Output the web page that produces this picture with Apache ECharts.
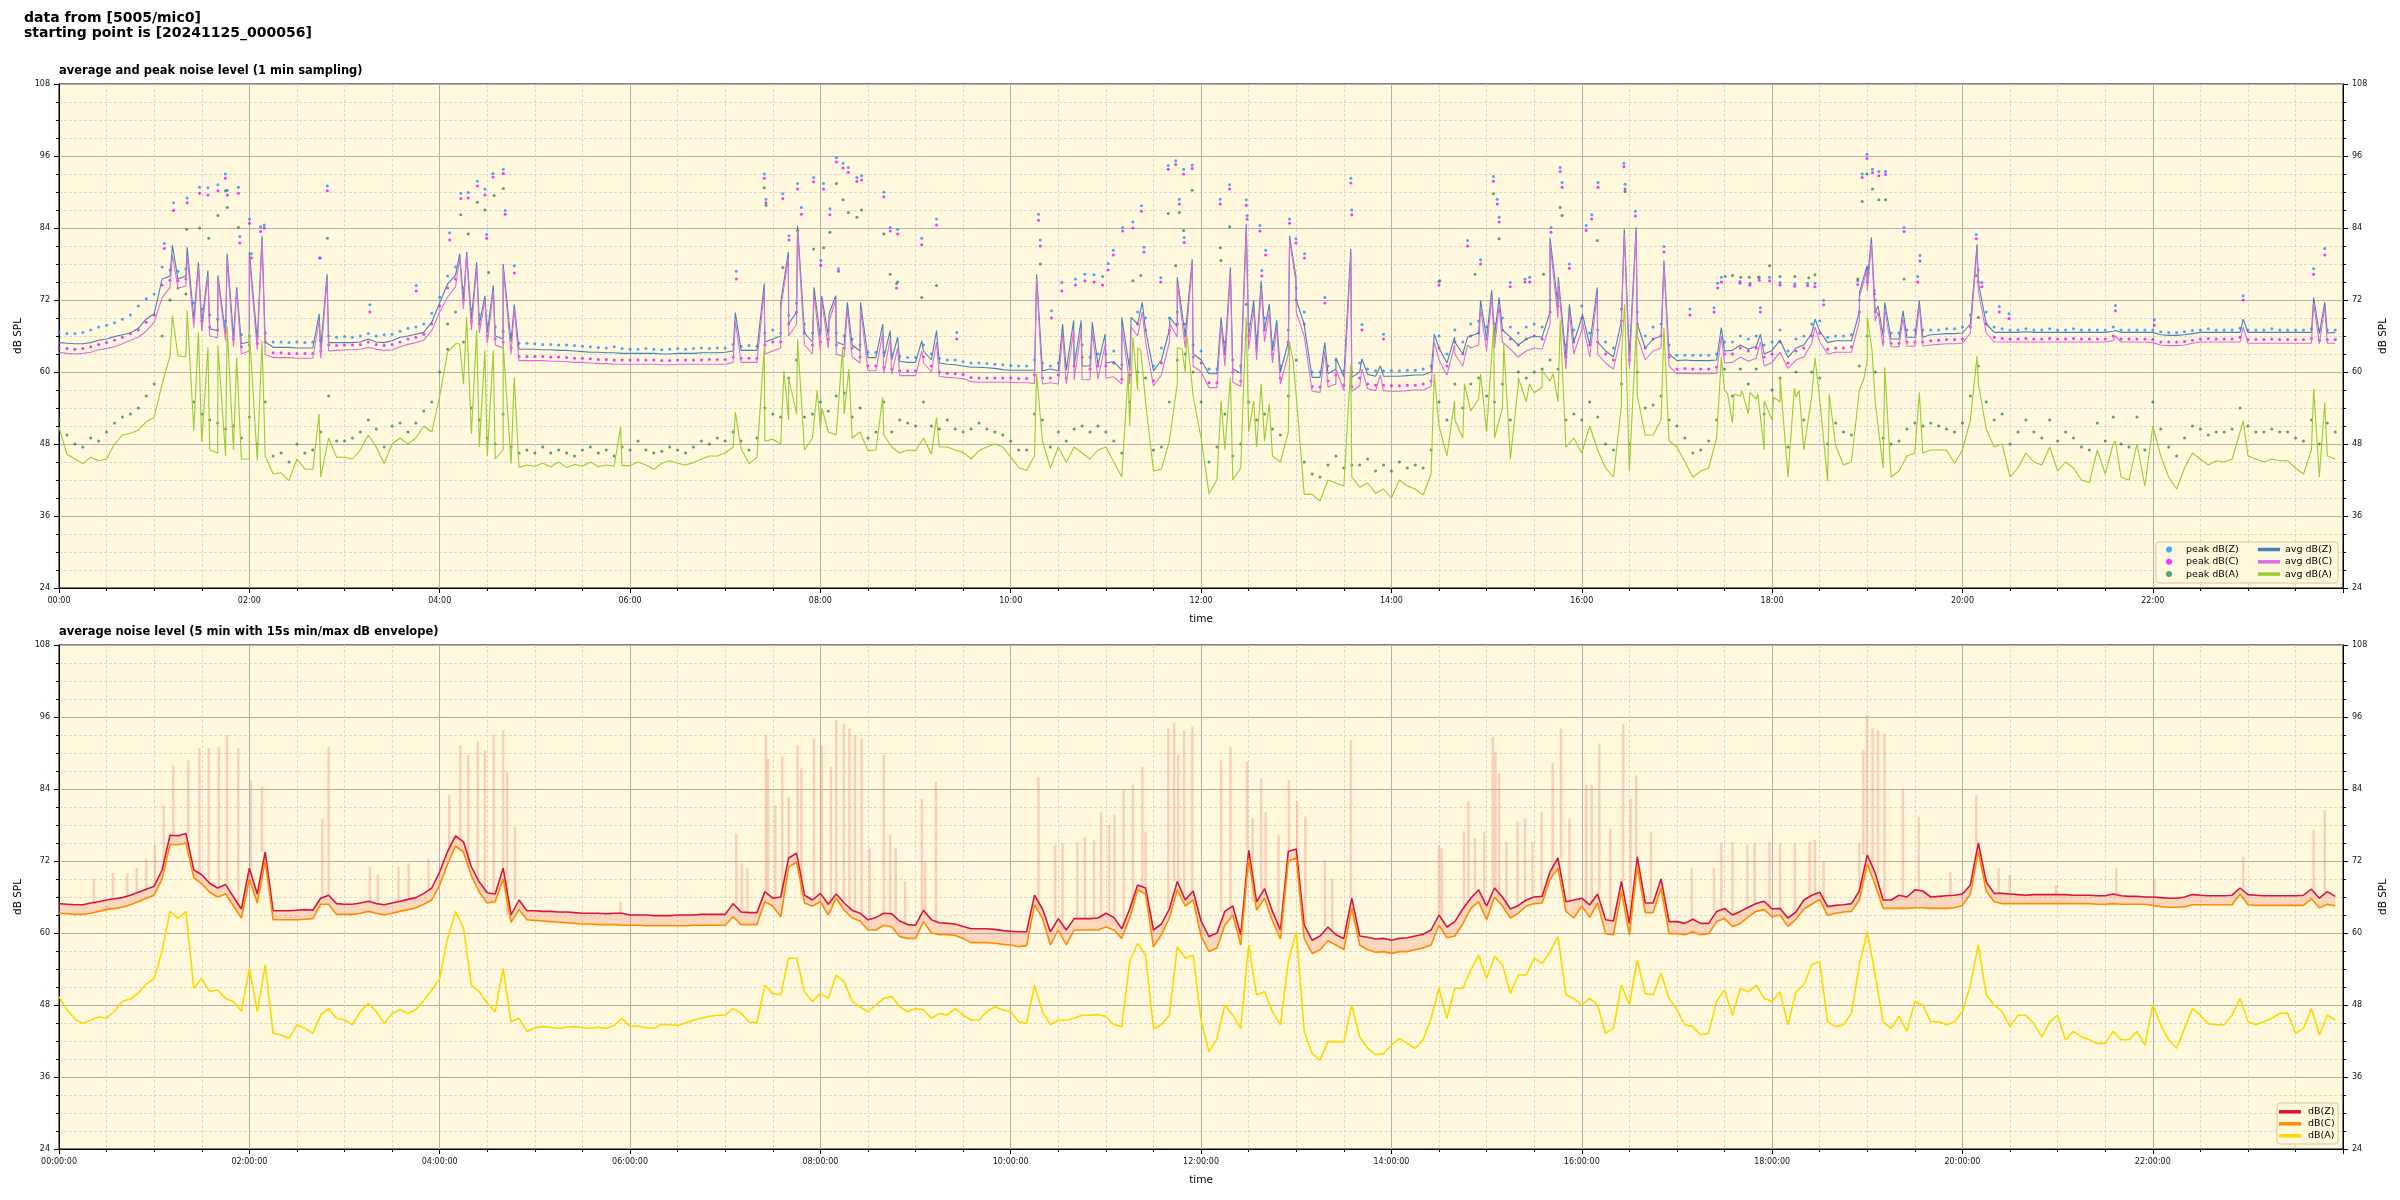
<!DOCTYPE html>
<html><head><meta charset="utf-8">
<script src="https://cdn.jsdelivr.net/npm/echarts@6/dist/echarts.min.js"></script>
<style>html,body{margin:0;padding:0;background:#fff}#c{width:2400px;height:1200px}</style>
</head><body><div id="c"></div>
<script>
// ---------- DATA (5-minute samples, 00:00 .. 23:55) ----------
const STEP = 5;
// bottom panel: 5-min averages
const z5 = [
64.9,64.8,64.7,64.7,65.0,65.2,65.5,65.7,65.9,66.3,66.8,67.3,
67.8,70.5,76.3,76.2,76.6,70.5,69.7,68.3,67.5,68.1,66.0,64.0,
70.8,66.5,73.5,63.7,63.7,63.7,63.8,63.9,63.8,65.8,66.3,64.9,
64.8,64.8,65.0,65.3,64.9,64.7,65.0,65.3,65.6,65.9,66.6,67.5,
70.2,73.6,76.2,75.2,71.0,68.5,66.7,66.5,70.8,63.0,65.5,63.7,
63.7,63.6,63.6,63.5,63.5,63.4,63.3,63.3,63.3,63.2,63.3,63.3,
63.0,63.0,63.0,62.9,62.9,62.9,63.0,63.0,63.0,63.1,63.1,63.1,
63.1,64.9,63.5,63.4,63.4,66.9,65.8,66.0,72.5,73.3,66.3,65.5,
66.6,64.8,66.5,65.0,63.8,63.3,62.2,62.6,63.3,63.2,62.0,61.4,
61.3,63.8,62.2,61.7,61.6,61.5,61.1,60.7,60.7,60.7,60.6,60.4,
60.3,60.2,60.2,66.3,64.0,60.2,62.4,60.5,62.4,62.4,62.4,62.5,
63.3,62.6,60.7,64.0,68.0,67.5,60.5,61.5,64.0,68.6,65.5,67.0,
62.0,59.4,60.0,63.6,64.5,59.7,73.8,65.2,67.4,63.6,60.5,73.6,
74.0,61.3,58.8,59.5,61.0,59.7,59.1,65.8,59.5,59.3,59.0,59.1,
58.8,59.1,59.2,59.5,59.8,60.5,63.0,61.0,61.9,64.0,65.8,67.2,
64.5,67.5,66.0,64.0,64.6,65.5,66.0,66.1,70.2,72.5,65.2,65.5,
65.8,64.7,66.5,62.2,62.0,68.6,61.6,72.7,65.0,65.0,69.0,61.9,
61.9,61.6,62.3,61.6,61.6,63.6,64.1,63.0,63.6,64.3,64.9,65.3,
64.0,64.1,62.5,63.5,65.5,66.3,66.8,64.4,64.6,64.7,64.9,67.0,
73.0,70.0,65.5,65.5,66.3,66.0,67.2,67.0,66.0,66.1,66.2,66.3,
66.5,68.0,75.0,68.5,66.6,66.6,66.5,66.4,66.3,66.4,66.4,66.4,
66.4,66.4,66.3,66.3,66.3,66.2,66.2,66.5,66.2,66.1,66.1,66.0,
66.0,65.9,65.8,65.8,66.0,66.4,66.3,66.2,66.2,66.2,66.3,67.5,
66.4,66.3,66.2,66.2,66.2,66.2,66.2,66.3,67.3,65.8,66.9,66.1];
const c5 = [
63.3,63.2,63.1,63.1,63.3,63.6,63.9,64.1,64.3,64.7,65.2,65.8,
66.3,69.0,74.8,74.7,75.0,69.2,68.2,66.8,66.0,66.5,64.5,62.5,
69.0,65.0,72.0,62.2,62.2,62.2,62.2,62.3,62.4,64.8,64.8,63.1,
63.1,63.1,63.3,63.6,63.3,63.0,63.3,63.6,63.9,64.2,64.8,65.5,
68.0,71.5,74.5,73.5,69.5,66.8,65.0,65.2,69.0,61.8,63.9,62.2,
62.1,62.0,61.9,61.8,61.7,61.6,61.5,61.5,61.4,61.4,61.4,61.3,
61.3,61.3,61.2,61.2,61.2,61.2,61.2,61.2,61.3,61.3,61.3,61.3,
61.3,62.7,61.4,61.4,61.4,65.2,64.5,62.7,71.0,71.8,65.0,64.5,
65.2,63.0,65.8,63.8,62.5,62.0,60.5,60.5,61.3,61.0,59.4,59.1,
59.1,61.9,60.0,59.7,59.7,59.6,59.1,58.4,58.4,58.4,58.3,58.1,
58.0,57.7,57.9,64.7,62.5,58.0,60.5,58.0,60.5,60.5,60.5,60.5,
61.0,60.5,59.1,62.5,67.2,66.5,57.7,59.7,62.5,67.2,64.5,65.5,
59.5,56.9,57.5,61.3,63.0,58.0,72.4,63.8,65.8,62.0,59.0,72.0,
72.5,59.1,56.6,57.2,58.7,58.0,57.2,64.1,58.0,57.2,56.8,56.9,
56.6,56.9,56.9,57.2,57.5,58.0,61.3,59.2,59.5,61.5,64.1,65.2,
62.2,66.0,64.5,62.5,63.3,64.5,64.9,65.0,69.0,70.8,63.6,62.5,
64.5,62.6,65.0,59.9,59.7,66.9,59.7,71.1,63.4,63.4,67.5,59.9,
59.9,59.7,60.2,59.7,59.9,61.9,62.4,61.1,61.6,62.7,63.6,63.9,
62.7,63.0,61.1,62.3,64.0,64.8,65.6,62.9,63.3,63.5,63.6,65.5,
71.5,68.0,64.1,64.1,64.1,64.1,64.2,64.2,64.1,64.1,64.1,64.2,
64.6,66.5,73.6,67.0,65.2,64.9,64.9,64.9,64.9,64.9,64.9,64.9,
64.9,64.9,64.9,64.9,64.9,64.8,64.8,64.9,64.8,64.8,64.8,64.8,
64.6,64.4,64.3,64.3,64.4,64.7,64.7,64.7,64.7,64.7,64.7,66.5,
64.7,64.6,64.6,64.6,64.6,64.6,64.6,64.6,65.7,64.2,64.8,64.5];
const a5 = [
49.4,47.2,45.7,44.9,45.5,46.0,45.8,47.0,48.6,49.0,50.0,51.5,
52.4,57.0,63.6,62.4,63.6,50.8,52.4,50.2,50.5,49.1,48.6,47.0,
54.1,46.9,54.7,43.3,43.0,42.4,44.7,44.1,43.3,46.3,47.4,45.8,
45.5,44.7,46.9,48.3,46.9,44.9,46.6,47.2,46.6,47.2,48.8,50.5,
52.4,59.1,63.6,60.8,51.3,50.2,48.3,46.9,54.1,45.2,45.8,43.6,
44.2,44.4,44.3,44.1,44.3,44.4,44.2,44.1,44.3,44.1,44.6,45.8,
44.4,44.5,44.2,44.1,44.8,44.7,44.6,45.0,45.5,45.8,46.1,46.3,
46.3,47.4,46.6,45.2,45.0,51.3,49.9,49.7,55.8,55.8,50.2,48.6,
49.9,49.1,53.0,51.9,48.6,47.7,46.9,48.0,49.1,49.4,47.7,46.9,
47.4,47.2,45.8,46.6,46.3,47.4,46.3,45.5,45.5,46.9,47.7,47.2,
46.9,45.2,44.9,51.3,46.9,44.7,45.5,45.5,45.8,46.3,46.3,46.4,
46.1,44.7,44.4,55.2,58.3,56.3,44.1,44.7,46.3,57.7,55.8,56.3,
45.5,40.2,42.4,48.0,46.3,44.1,58.0,49.7,50.2,46.9,44.7,55.2,
60.2,43.6,39.9,38.8,41.9,41.9,41.9,48.0,42.7,40.8,39.7,39.9,
41.3,42.4,41.6,40.8,42.2,45.8,50.8,45.8,50.8,50.8,53.8,56.3,
52.4,56.1,54.7,49.9,53.0,53.0,55.8,54.9,56.9,59.4,49.7,49.1,
48.0,49.1,48.0,43.3,44.1,51.3,48.0,55.5,49.9,49.7,53.3,49.1,
47.2,44.7,44.4,43.0,43.3,48.6,50.5,46.3,50.8,50.2,51.3,49.1,
48.6,50.2,44.7,50.2,51.3,54.7,55.2,45.2,44.4,44.7,46.6,54.7,
60.2,53.0,45.2,44.1,46.1,43.6,48.6,48.0,45.2,45.2,44.7,45.2,
46.9,51.3,58.0,49.7,48.0,46.9,44.4,46.3,46.3,44.9,42.7,45.2,
46.3,42.2,43.6,42.7,42.2,41.6,41.6,43.6,42.2,42.2,43.6,41.3,
48.0,44.7,42.2,40.8,44.1,47.4,46.3,44.9,44.7,44.7,46.3,49.1,
45.2,44.7,45.2,45.8,46.6,46.6,43.3,44.1,47.4,43.0,46.3,45.5];
// 15 s max-envelope excursions [minute, dB]
const envSpikes = [
[22,69],[34,70],[43,70],[49,70.8],[55,72.4],[60.5,74.7],[66,81.3],[72,88],[81.5,88.8],[88.5,90.8],[94.4,90.8],[100.7,91],[106,93],[113,90.8],[121,85.5],[128,84.4],[166,79.1],[170,91],[196,71],[201,69.7],[214,71],[220.5,71.6],[233,72.4],[246,83],[253,91.3],[258,89.7],[264,91.9],[268.5,90.5],[274,93],[280,93.8],[282.5,86.9],[287.5,77.7],[354,65.2],
[427,76.6],[430.6,71.6],[434,70.8],[445.7,93],[447,89],[451.6,81.3],[456,89.4],[460,82.7],[465.6,91.3],[468,87.4],[476,92.4],[480.8,91.3],[486.6,87.7],[490,95.5],[494.8,94.9],[498.3,94.1],[501.8,93],[506,92.4],[511,74.1],[520,89.7],[524,76.3],[527.5,74.1],[533.4,68.6],[544,82.4],[546,71.9],[552.8,85.2],[617.5,86],[628,74.7],[632.7,75],[642,75.2],[646.7,76],[652.5,75.5],[657,80.2],[662,78],[665.4,79.7],[671.2,84],[677,84.7],[683,87.7],[685,76.9],[699.3,94.1],[703,95],[705.6,89.7],[709.3,93.8],[714.5,94.4],
[732.6,88.8],[738.5,91],[749,88.6],[752.5,79.1],[757.9,85.8],[760.7,80.2],[768.8,76.3],[775.4,85.5],[780.5,81.9],[785.7,79.4],[798,72.2],[802.7,69.1],[814.4,92.2],[870,74.7],[871.6,74.1],[885.7,76.9],[888.5,81.9],[892.7,75.8],[898.5,76.9],[903.9,92.7],[905.5,90.2],[907.9,86.6],[912.5,75.2],[919.5,78.6],[924.2,79.1],[928.9,75.2],[934.7,80.2],[941.7,88.3],[946.9,94.1],[952.2,79.1],[962.8,84.7],[966.3,84.7],[971,91.6],[978,77.4],[986.1,94.9],[990.8,82.4],[994.3,86.3],[1003.6,76.9],[1029.3,70.8],[1043.4,70.8],[1048,75],[1055,75.2],[1064.4,74.7],[1069,74.9],[1078.4,75.2],
[1085,75],[1094.3,75],[1103.6,75.2],[1107,75.5],[1112.5,71.9],[1135,75],[1137.5,90.5],[1139.8,96.3],[1143.3,94.1],[1146.8,93.8],[1150.8,93.3],[1162.5,84.1],[1172.5,79.4],[1192.4,70.2],[1208.7,83],[1222.8,70.8],[1229.8,69.7],[1259,68],[1297,70.8],[1321,68.8],[1377,72.7],[1421.4,77.2],[1428.4,80.5]];

// top panel: 1-min averages (base level every 5 min + short events)
const avgZ = [
64.9,64.8,64.7,64.7,64.9,65.3,65.5,65.9,66.2,66.5,67.3,68.8,
69.7,75.5,76.0,75.5,76.0,68.8,68.0,67.2,66.9,66.3,65.8,64.7,
65.0,65.2,65.0,64.1,64.1,64.1,64.0,64.0,64.0,64.0,64.9,64.9,
64.9,64.9,65.0,65.5,65.0,64.9,65.2,65.8,66.0,66.3,66.6,68.3,
71.5,74.7,76.1,72.0,68.8,68.0,66.5,66.0,65.5,65.0,63.8,63.8,
63.8,63.7,63.7,63.6,63.6,63.5,63.4,63.3,63.3,63.2,63.2,63.1,
63.1,63.1,63.1,63.1,63.0,63.0,63.1,63.1,63.1,63.2,63.2,63.2,
63.3,63.5,63.6,63.6,63.6,65.0,65.5,66.0,68.0,70.0,66.5,65.0,
65.5,66.0,65.0,64.5,64.5,63.5,62.4,62.4,62.4,62.0,61.8,61.6,
61.6,63.5,62.0,61.5,61.3,61.2,61.0,60.8,60.8,60.7,60.6,60.4,
60.3,60.3,60.3,60.3,60.2,60.5,60.2,60.3,61.0,61.0,61.0,61.2,
61.5,61.7,60.3,60.3,68.0,67.0,60.2,62.0,67.0,67.5,66.0,63.0,
62.0,59.7,59.7,63.0,60.5,59.8,66.0,64.0,67.0,63.5,60.0,65.0,
72.0,68.0,59.1,59.1,59.7,60.5,59.2,59.1,60.0,59.6,59.3,59.3,
59.3,59.3,59.4,59.5,59.5,60.0,64.0,61.5,65.0,63.0,66.0,66.5,
65.5,66.0,67.0,65.8,64.5,65.5,66.0,65.8,70.0,71.0,62.5,65.0,
69.0,64.5,65.0,63.5,62.5,68.5,62.5,68.0,64.0,65.5,66.0,63.0,
61.9,62.0,61.9,61.9,61.9,62.0,63.5,63.6,64.5,63.8,64.3,63.0,
63.6,65.3,62.4,64.0,64.5,66.5,66.8,64.9,65.2,65.2,65.2,70.0,
75.0,70.0,66.0,65.5,65.5,65.8,65.8,65.8,66.2,66.3,66.4,66.4,
66.5,68.0,75.0,68.0,66.6,66.6,66.6,66.6,66.7,66.6,66.6,66.6,
66.6,66.6,66.6,66.6,66.6,66.6,66.6,66.8,66.6,66.6,66.6,66.6,
66.6,66.2,66.1,66.1,66.2,66.4,66.6,66.6,66.6,66.6,66.6,66.6,
66.6,66.6,66.6,66.6,66.6,66.6,66.6,66.6,66.6,66.4,66.5,66.6];
const avgC = [
63.3,63.1,63.0,63.1,63.3,63.7,63.9,64.2,64.7,65.3,65.8,66.8,
68.3,72.4,74.1,74.0,74.3,67.4,66.8,66.0,65.7,65.2,64.2,63.0,
63.5,63.7,62.9,62.4,62.4,62.4,62.3,62.3,62.3,62.3,63.5,63.6,
63.7,63.7,63.8,64.1,63.8,63.6,63.7,64.2,64.6,64.9,65.3,66.9,
70.0,72.5,74.2,70.5,67.0,66.5,64.8,64.5,64.0,63.0,61.9,61.9,
61.9,61.9,61.8,61.8,61.7,61.6,61.6,61.5,61.4,61.4,61.3,61.3,
61.3,61.3,61.3,61.3,61.2,61.2,61.3,61.3,61.3,61.3,61.3,61.3,
61.3,61.6,61.6,61.6,61.6,63.0,63.5,64.0,66.0,68.0,64.5,63.0,
63.5,64.0,63.0,62.5,62.5,61.5,60.2,60.2,59.8,59.6,59.4,59.4,
59.4,61.5,60.0,59.3,59.1,59.0,58.9,58.4,58.3,58.3,58.3,58.3,
58.3,58.2,58.2,58.1,58.0,58.2,58.0,58.0,58.7,58.7,58.7,58.8,
59.0,59.2,58.0,58.0,66.0,65.0,57.7,59.5,65.0,65.8,64.0,61.0,
60.0,57.4,57.4,61.0,58.3,57.6,63.8,62.0,65.0,61.5,58.0,63.0,
70.0,66.0,56.8,56.6,57.5,58.0,56.9,56.8,57.7,57.2,56.9,56.9,
56.8,56.8,56.9,57.0,57.0,57.6,62.0,59.5,63.0,61.0,64.0,64.5,
63.5,64.0,65.0,63.8,62.5,63.5,64.0,63.8,68.0,69.0,60.5,63.0,
67.0,62.5,63.0,61.5,60.5,66.5,60.5,66.0,62.0,63.5,64.0,61.0,
59.7,59.8,59.7,59.7,59.7,59.8,61.5,61.6,62.5,61.8,62.3,61.0,
61.6,63.3,60.6,62.0,62.5,64.8,65.0,63.0,63.3,63.3,63.3,68.5,
73.5,68.5,64.3,64.2,64.2,64.3,64.3,64.3,64.5,64.6,64.7,64.7,
64.8,66.5,73.5,66.5,65.0,65.0,65.0,65.0,65.0,65.0,65.0,65.0,
65.0,65.0,65.0,65.0,65.0,65.0,65.0,65.2,65.0,65.0,65.0,65.0,
64.9,64.5,64.4,64.4,64.5,64.8,65.0,65.0,65.0,65.0,65.0,65.0,
64.8,64.8,64.8,64.8,64.8,64.8,64.8,64.8,64.8,64.7,64.8,64.8];
const avgA = [
50.8,46.3,45.5,44.7,45.8,45.2,45.5,48.0,49.5,49.8,50.3,51.7,
52.4,58.0,62.7,62.7,62.5,50.2,48.3,47.0,46.5,46.0,47.0,45.5,
45.5,45.2,46.0,43.0,43.2,41.9,45.5,43.8,43.8,42.5,49.0,45.8,
45.8,45.5,47.0,49.5,47.5,44.7,48.0,49.0,48.0,49.0,51.0,50.0,
56.0,63.3,64.7,58.0,49.7,47.5,46.0,45.5,47.0,44.7,44.1,44.5,
44.3,44.8,44.2,45.0,44.1,44.6,44.3,45.0,44.2,44.5,44.3,44.4,
44.4,45.0,44.5,43.8,44.8,45.2,44.8,44.5,44.9,45.5,46.0,46.0,
46.5,47.5,47.2,44.7,45.8,48.5,48.8,48.0,52.0,53.0,47.0,49.0,
50.5,50.0,49.5,53.0,49.0,50.0,46.9,47.0,49.5,47.5,46.5,47.0,
46.9,49.0,46.3,47.5,47.5,47.0,46.6,45.5,46.9,47.5,48.0,47.5,
45.8,44.1,43.6,46.0,48.5,44.0,47.5,44.9,47.5,46.5,45.5,47.0,
47.5,45.0,42.5,51.0,57.0,55.0,43.5,43.8,48.5,58.0,60.0,56.0,
49.0,39.7,42.0,47.0,42.0,44.0,50.0,47.5,48.5,46.0,45.0,50.0,
56.0,39.6,39.6,38.5,42.0,41.5,41.0,42.5,40.8,41.5,39.8,40.5,
39.0,42.0,41.0,40.5,39.5,43.0,51.0,46.0,52.0,49.0,53.5,55.5,
50.0,49.0,54.0,45.5,58.0,55.0,56.5,57.5,58.5,55.0,47.5,49.0,
46.5,51.0,47.0,44.0,42.5,54.5,43.5,56.0,49.5,49.5,52.0,48.5,
47.5,45.0,42.5,43.5,44.0,49.0,57.0,51.5,56.0,53.0,55.5,47.0,
52.0,55.0,42.5,55.8,47.0,56.0,55.5,41.8,47.8,44.5,45.0,57.0,
62.0,55.0,44.0,42.5,43.5,46.0,46.5,46.5,47.0,47.0,47.0,44.8,
47.0,52.0,58.0,50.5,47.5,48.0,42.5,44.0,46.5,45.0,44.5,47.5,
43.5,45.0,44.0,42.0,41.6,47.0,43.0,48.0,42.5,42.0,48.0,41.0,
51.0,46.0,42.5,40.5,44.0,46.5,45.5,44.5,45.2,45.0,45.5,50.0,
46.0,45.5,45.0,45.5,45.2,45.2,44.0,43.0,47.0,42.5,46.0,45.5];
// short events in the 1-min averages: [minute, dB(Z), dB(C)]
const eventsZC = [
[71.5,81.1,79.5],[80.8,80.8,79.5],[87.9,78.3,77.5],[93.9,76.9,76],[100.2,76.1,75.5],[106,79.7,79],[112,74.1,73.5],[120,80,79],[128,82.7,82],[164,69.7,68.5],[169,76.3,75.5],[252.6,79.7,79],[257,80,79.5],[263.3,78.3,77.5],[268.5,72.7,72],[273.8,74.4,73.5],[280,78,77.5],[287,71.3,70.5],
[426.4,69.9,68.5],[444.6,74.7,73.5],[455,71.6,70.5],[459.8,80,79],[465.6,84.4,83.5],[476,74.1,73],[480.8,72.7,72],[485.5,69.7,68.5],[489.7,72.7,72],[497,71.6,70.5],[505.3,71.6,70.5],[519.3,68,66.5],[524,66.9,65.5],[528.7,65.8,64],[543.9,65.2,63.5],[553.2,66.9,65],[616.3,76.3,75.5],[632.7,68,66.5],[639.7,68.6,67],[644.4,68.6,67],[651.4,68.3,66.8],[659.5,66.3,64.5],[670,69.1,67.5],[675.9,69.1,67.5],[682.9,71.6,70],[700.4,69.1,68],[705,75.8,75],[714.4,78.8,78],
[732.6,69.1,68],[738.5,77.4,76.5],[748.5,84.7,84],[753.2,71.9,70.5],[757.9,75.2,74],[763,71.3,70],[767.7,68.6,67.5],[775.8,82.7,82],[779.8,75.8,75],[785.2,67.4,66],[798,64.9,63.5],[805,62.4,60.5],[814.4,80.5,79.5],[821.4,62.2,60.5],[833,61,59.5],[867,66.3,65],[879.8,65.8,64.5],[888,65.8,64.5],[896.2,71.9,70.5],[903.2,73.6,72.5],[907.9,72.4,71],[940,82.4,81.5],[945.2,75.8,75],[952.2,71.3,70],[960.4,69.7,68.5],[969.8,74.1,73],[985,69.1,68],[986.8,83.8,83],[994.3,84.1,83.5],[1011.8,78.6,78],[1048,67.4,66],[1072.6,66.3,65],
[1107.1,68.8,67.5],[1135.1,73.3,72.5],[1139.8,77.7,77],[1142.6,82.4,81.5],[1146.8,71,70],[1151,71.6,70.5],[1162.5,70.2,69],[1172.8,71.9,71],[1209.2,81.3,80.5],[1296.4,66.9,66],[1377,68.8,67.5],[1421.4,72.4,71.5],[1428.4,71.6,70.8]];
const eventsA = [
[71.5,69.4],[80.8,70.2],[87.9,66.6],[93.9,64.1],[100.2,64.4],[106,67.6],[112,62.4],[120,66.9],[128,65.2],[164,53],[252.6,64.7],[257,69.1],[263.3,66.9],[268.5,63.6],[273.8,63.6],[280,64.7],[287,59.1],[354,50.8],
[426.4,53.3],[444.6,64.1],[457,60.2],[460,59],[465.6,65.5],[478,57],[481,54],[494,64.1],[498,60.5],[519.3,55.8],[553.2,52.4],[616.3,59.7],[674,59.7],[677,65.8],[680,64],[682,63.6],[705,64.1],[708,63.8],[711,66.3],
[732.6,55.2],[738.5,59.1],[747,59.1],[748.5,69.1],[753.2,55.2],[757.9,58],[763,54.7],[775.8,64.9],[778,61.9],[814.4,61.3],[867,59.7],[879.8,55.2],[886,58],[896.2,59.7],[904.5,68],[910.8,64.7],[920,59.1],[927,58],[935,60.2],[942,59.7],[946.4,68.6],[985,62.4],[987,71.3],[994.5,68],[1011.8,67.4],[1048,62.4],[1052,56.3],[1056,56.3],[1061,56.9],[1066,56.6],[1071,56.3],[1075,55.2],
[1081,55.8],[1085,59.1],[1094,57.3],[1097,56.9],[1107,62.4],[1116,56.3],[1135,57],[1138,59],[1140,69.1],[1143,63.6],[1151,60.8],[1172.8,56.6],[1209.2,62.7],[1296.4,48.5],[1377,51.9],[1421.4,57.2],[1428.4,54.9]];
// peak levels (every 5 min) + isolated high peaks
const peakZ = [
66.6,66.4,66.4,66.6,67.0,67.5,67.8,68.2,68.8,69.5,71.0,72.2,
73.0,77.5,77.0,76.8,77.2,71.5,70.5,69.5,68.8,68.5,67.0,66.2,
66.0,66.0,66.5,65.0,65.0,64.9,65.0,64.9,65.0,65.3,66.0,65.8,
65.9,65.8,66.0,66.4,66.0,66.2,66.3,66.8,67.3,67.5,68.0,69.8,
72.5,76.0,77.5,74.0,70.5,69.5,68.0,67.5,66.8,66.3,64.8,64.8,
64.7,64.6,64.6,64.5,64.5,64.4,64.3,64.2,64.1,64.0,64.2,63.9,
63.8,63.8,63.9,63.8,63.7,63.8,63.9,63.8,63.9,64.0,63.9,64.0,
64.0,64.6,64.3,64.4,64.3,66.5,67.0,66.5,69.5,71.5,68.0,66.5,
67.0,67.0,66.5,66.0,65.5,64.5,63.3,63.3,63.3,63.0,62.6,62.4,
62.4,64.5,63.0,62.3,62.0,62.0,61.7,61.5,61.5,61.4,61.3,61.2,
61.1,61.0,61.0,62.0,61.5,61.0,61.5,61.0,63.0,64.5,62.5,63.0,
63.0,63.5,61.2,62.0,70.0,69.0,61.0,64.0,69.0,70.0,68.0,64.5,
63.5,60.5,60.5,65.0,62.0,61.0,68.0,66.0,69.0,65.0,61.0,67.0,
74.0,70.0,60.0,60.0,61.0,62.0,60.2,60.0,61.5,60.5,60.2,60.2,
60.2,60.2,60.3,60.3,60.5,61.0,66.0,63.0,67.0,65.0,68.0,68.5,
67.5,68.0,69.0,67.5,66.5,67.5,68.0,67.5,72.0,73.0,64.5,67.0,
71.0,66.5,67.0,65.0,64.0,70.5,64.0,70.0,66.0,67.5,68.0,64.5,
62.8,62.8,62.8,62.8,62.8,63.0,65.0,65.0,66.0,65.5,66.0,64.5,
65.0,67.0,63.5,65.5,66.0,68.0,68.5,65.8,66.0,66.0,66.2,72.0,
77.0,72.0,67.0,66.5,66.5,67.0,67.0,67.0,67.0,67.0,67.2,67.2,
67.5,69.5,77.0,70.0,67.5,67.2,67.0,67.0,67.2,67.0,67.0,67.2,
67.0,67.0,67.2,67.0,67.0,67.0,67.0,67.5,67.0,67.0,67.0,67.0,
67.0,66.7,66.6,66.6,66.7,66.9,67.0,67.2,67.0,67.0,67.0,67.3,
67.0,67.0,67.0,67.2,67.0,67.0,67.0,67.0,67.2,67.0,67.0,67.0];
const peakC = [
64.1,63.9,63.8,63.9,64.2,64.6,64.9,65.3,65.8,66.4,67.0,68.3,
69.5,74.5,75.3,75.2,75.5,69.5,68.5,67.5,67.0,66.8,65.5,64.2,
64.5,64.8,65.0,63.2,63.2,63.1,63.1,63.1,63.1,63.5,64.5,64.4,
64.5,64.5,64.6,65.0,64.6,64.4,64.6,65.0,65.5,65.8,66.3,68.0,
71.0,74.0,75.5,72.0,68.5,68.0,66.0,65.5,65.0,64.0,62.6,62.6,
62.6,62.6,62.5,62.5,62.4,62.3,62.3,62.2,62.1,62.1,62.0,62.0,
62.0,62.0,62.0,62.0,61.9,61.9,62.0,62.0,62.0,62.0,62.1,62.1,
62.1,62.5,62.3,62.3,62.3,64.5,65.0,65.0,68.0,70.0,66.5,64.5,
65.0,65.5,64.5,64.0,64.0,62.5,61.0,61.0,60.8,60.5,60.2,60.2,
60.2,62.5,61.0,60.0,59.8,59.7,59.6,59.1,59.0,59.0,59.0,59.0,
59.0,58.9,58.9,59.5,59.0,59.0,59.5,59.0,61.0,62.5,60.5,61.0,
61.0,61.5,58.8,59.5,68.0,67.0,58.5,61.5,67.0,68.0,66.0,62.5,
61.5,58.2,58.2,63.0,60.0,58.5,66.0,64.0,67.0,63.0,59.0,65.0,
72.0,68.0,57.6,57.5,58.5,59.5,57.8,57.6,59.0,58.0,57.8,57.8,
57.7,57.7,57.8,57.8,58.0,58.5,64.0,61.0,65.0,63.0,66.0,66.5,
65.5,66.0,67.0,65.5,64.5,65.5,66.0,65.5,70.0,71.0,62.5,65.0,
69.0,64.5,65.0,63.0,62.0,68.5,62.0,68.0,64.0,65.5,66.0,62.5,
60.5,60.6,60.5,60.5,60.5,60.8,63.0,63.0,64.0,63.5,64.0,62.5,
63.0,65.0,61.5,63.5,64.0,66.0,66.5,63.8,64.0,64.0,64.2,70.0,
75.0,70.0,65.0,64.8,64.8,65.0,65.0,65.0,65.2,65.3,65.4,65.4,
65.5,67.5,75.0,68.0,65.8,65.6,65.5,65.5,65.6,65.5,65.5,65.6,
65.5,65.5,65.6,65.5,65.5,65.5,65.5,66.0,65.5,65.5,65.5,65.5,
65.4,65.0,65.0,65.0,65.1,65.3,65.5,65.6,65.5,65.5,65.5,65.8,
65.4,65.4,65.4,65.5,65.4,65.4,65.4,65.4,65.6,65.3,65.4,65.4];
const peakA = [
52.0,49.5,48.0,47.5,49.0,48.5,50.0,51.5,52.5,53.0,54.0,56.0,
58.0,66.0,72.0,74.0,73.0,55.0,53.0,52.0,51.5,50.5,51.0,49.0,
52.5,48.0,55.0,46.0,46.5,45.0,48.0,46.5,47.0,50.0,56.0,48.5,
48.5,49.0,50.0,52.0,50.5,47.5,51.0,51.5,50.0,51.5,53.5,55.0,
60.0,68.0,70.0,65.0,54.0,52.0,49.0,48.0,53.0,47.5,46.5,47.0,
46.5,47.5,46.5,47.0,46.5,46.0,47.0,47.5,46.5,47.0,46.0,47.5,
47.0,48.5,47.0,46.5,46.8,47.5,47.0,46.5,47.5,48.5,48.0,49.0,
48.5,50.0,48.5,47.0,49.0,54.0,53.0,52.5,59.0,62.0,52.5,53.0,
55.0,53.5,56.0,56.5,52.5,54.0,49.0,50.0,55.0,50.0,52.0,51.5,
51.0,55.0,51.0,50.5,52.0,50.5,50.0,50.5,51.5,50.5,50.0,49.5,
48.5,47.0,47.0,53.0,52.0,47.5,50.0,48.5,50.5,51.0,50.0,51.0,
50.0,48.5,46.5,55.0,60.0,59.0,47.0,47.5,55.0,62.0,63.0,60.0,
55.0,45.0,47.5,53.0,46.0,48.0,55.0,52.0,53.0,50.5,49.5,56.0,
62.0,45.0,43.0,42.5,44.5,46.0,44.0,44.5,44.5,45.5,43.5,44.5,
43.5,45.0,44.0,44.5,44.0,47.0,55.0,52.0,58.0,54.0,58.0,59.0,
56.0,55.0,58.0,52.0,60.0,59.0,60.0,60.5,62.0,60.5,52.0,53.0,
52.0,55.0,52.5,48.0,47.0,58.0,48.0,60.0,54.0,54.5,56.0,52.0,
51.0,49.0,46.5,47.0,48.5,52.0,60.5,56.0,60.5,58.0,60.5,53.0,
57.0,59.0,47.5,60.0,52.0,60.0,59.0,48.0,51.5,50.0,49.5,61.0,
66.0,60.0,49.0,48.0,48.5,50.5,51.5,51.0,51.5,51.0,50.5,50.0,
51.5,56.0,61.0,55.0,52.0,53.0,48.0,50.0,52.0,50.0,49.0,52.0,
48.5,50.0,49.0,47.5,47.0,51.5,48.5,52.5,48.0,47.5,52.5,47.0,
55.0,50.5,47.5,46.0,49.0,51.0,50.5,49.5,50.0,50.0,50.5,54.0,
51.0,50.0,50.0,50.5,50.0,50.0,49.0,48.5,52.0,48.0,51.5,50.0];
const peakHighZC = [
[66.4,81.4,80.6],[72.2,88.2,86.9],[80.8,89,88.2],[88.6,90.8,89.8],[93.9,90.7,89.5],[100.2,91.2,90.2],[104.9,93,92.3],[106.1,90.3,89.5],[113.1,90.8,89.8],[114,82.6,81.5],[120.1,85.5,84.8],[121.3,79.7,79],[127.1,84.2,83.4],[129.4,84.5,84],[164.5,79,79],[169.2,91,90.2],[196,71.2,70],[225.2,74.4,73.5],[246.3,83.2,82],[253.3,89.8,88.9],[258,89.9,89],[263.8,91.8,91],[268.5,90.5,89.5],[269.6,82.9,82.3],[273.6,93.1,92.5],[280.1,93.8,93.1],[281.3,86.9,86.3],[287.1,77.7,76.5],
[427,76.8,75.5],[444.6,93,92.3],[445.7,88.8,88.2],[456.3,89.7,88.9],[460.2,82.7,82],[465.6,91.4,90.5],[468,87.4,86.3],[475.7,92.4,91.7],[480.3,78.6,77.8],[482,91.4,90.5],[486,87.2,86.2],[490.1,95.7,95],[491.4,77.2,76.8],[494.3,94.8,94],[497.6,94.1,93.3],[503,92.4,91.8],[506,92.7,92],[520,90,89.2],[524,84.1,83.5],[528,74.7,74],[528.7,83.8,83],[543.9,82.3,81.2],[553.2,85.5,84.5],[566,66.6,65.5],[617.5,86.3,85.3],[618.6,82,81],[625.7,70.2,69],[632.2,74.9,73.5],[640.8,75.5,74.5],[646.7,76.3,75.2],[652.5,76.2,75],[657.9,75.9,74.5],[661.4,78.1,77],[664.7,80.3,79.5],[670.5,84.1,83.5],[677,85,84],[682.4,87.7,86.8],[684,80.8,80],[694.6,75.7,75],[699.3,94.4,93.8],[704,95.2,94.6],[706.3,88.8,88],[709,93.8,93],[709.3,82.4,81.6],[714.4,94.5,93.9],
[732.1,88.8,88],[738,91.2,90.5],[748.5,88.7,87.8],[749,86.1,85.5],[757.1,84.4,83.5],[758.3,76.9,76],[760.7,80.3,79.5],[775.8,85.5,84.8],[779.8,82.2,81.5],[785.2,79.7,79],[798,72.4,71.5],[814.4,92.3,91.5],[815,87,86.2],[821.4,67.9,67],[835,66.3,65.5],[870,75.1,74.5],[888,81.9,81],[896.2,78.7,78],[904.3,92.6,91.8],[906.7,88.8,88],[907.9,85.8,85],[914.9,74.9,74.2],[924.2,75.5,75],[927.2,75.8,75],[940.6,84.1,83.3],[946.4,94.1,93.4],[947.6,91.6,90.8],[952.2,78,77.3],[962.8,84.4,83.6],[966.3,86.2,85.5],[970.2,91.6,90.8],[986.6,94.8,94.2],[987.3,91.3,90.5],[993.8,86.8,86],[1011.8,80.9,80],[1028.2,70.5,69.5],[1043.4,70.7,70],[1045.7,74.8,74],[1048,75.8,75],[1059.7,75.1,74.8],[1066,74.8,74.5],[1071.9,75.8,75.3],[1072.6,70.7,70],[1078.4,75.8,75.2],
[1085,74.9,74.5],[1094.3,74.7,74.3],[1102.4,74.8,74.4],[1107,74.8,74.2],[1112.5,71.9,71.2],[1134,75.2,74.6],[1136.8,93,92.4],[1139.8,96.3,95.6],[1140.5,77.4,76.5],[1143.3,93.8,93.2],[1144.5,73.6,73],[1147.3,93.4,92.7],[1151.5,93.4,92.9],[1163.2,84.1,83.4],[1171.8,75.9,75],[1173.2,79.4,78.5],[1208.7,82.9,82.2],[1212.2,74.9,74.2],[1223.2,70.9,70],[1229.3,69.7,68.9],[1296.4,71.1,70.2],[1320.9,68.7,67.8],[1377,72.7,72],[1421.4,77.2,76.3],[1428.4,80.6,79.5]];
const peakHighA = [
[80.4,83.8],[88.6,84],[94.4,82.3],[100.2,86.1],[105,90.2],[106.1,87.4],[113.1,84.1],[169.2,82.3],[245,63.8],[253.3,86.2],[258,83],[263.8,88.3],[268.5,87],[270.8,76.6],[274.3,89.4],[280.1,90.6],
[444.6,90.7],[445.7,87.8],[456.3,77.4],[465.6,83.6],[475.7,80.5],[482,80.7],[486,83.3],[490.1,91.4],[494.3,88.7],[497.6,86.6],[503,85.8],[506,87],[520,83],[524,76.3],[528.7,75],[543.9,72.4],[553.2,74.4],[618.6,78],[677,75.2],[682,76.1],[699.3,86.4],[704,77.7],[706.3,86.6],[709,83.6],[714.4,90.3],
[732.1,80.7],[732.6,78.6],[738,84.2],[748.5,71.3],[870.5,75.2],[892.7,76.3],[904.3,89.7],[907.9,82.2],[935.9,76.3],[946.4,87.4],[947.6,86.1],[969.8,81.9],[987.3,90.1],[1050.4,75.9],[1055,76.1],[1060.2,75.8],[1065.6,75.8],[1071.5,75.8],[1078.4,77.7],
[1085,75.9],[1094.3,75.9],[1103.1,75.7],[1107,76.2],[1134,75.5],[1136.8,88.4],[1139.8,93],[1143.3,90.5],[1147.3,88.7],[1151.5,88.7],[1163.2,75.5],[1208.7,76.1],[1210,69.1]];
// axis ticks
const yTicks = [24,36,48,60,72,84,96,108];
const xTickHours = [0,2,4,6,8,10,12,14,16,18,20,22];

// ---------- sanity ----------
const named = {z5,c5,a5,avgZ,avgC,avgA,peakZ,peakC,peakA};
for (const k in named) if (named[k].length !== 288) throw new Error(k + ' has ' + named[k].length);

// ---------- build ----------
const pts = arr => arr.map((v, i) => [i * STEP, v]);
const withEvents = (arr, ev, k) => pts(arr).concat(ev.map(e => [e[0], e[k]])).sort((a, b) => a[0] - b[0]);
const zAt = t => z5[Math.min(z5.length - 1, Math.round(t / STEP))];
const pad = n => String(n).padStart(2, '0');
const fmt = (v, secs) => {
  if (Math.abs(v % 120) > 1e-6) return '';
  const h = Math.round(v / 60);
  if (!xTickHours.includes(h)) return '';
  return pad(h) + ':00' + (secs ? ':00' : '');
};
const FONT = 'DejaVu Sans';
const grids = [
  {left: 59, top: 84, width: 2284, height: 504},
  {left: 59, top: 645, width: 2284, height: 504}
].map(g => Object.assign(g, {show: true, backgroundColor: '#fff8dc', borderColor: '#000', borderWidth: 1, containLabel: false}));

const xAx = (gi, secs) => ({
  type: 'value', gridIndex: gi, min: 0, max: 1439.9, interval: 120,
  axisLine: {show: true, onZero: false, lineStyle: {color: '#000', width: 1}},
  axisTick: {show: true, length: 5, lineStyle: {color: '#000'}},
  minorTick: {show: true, splitNumber: 4, length: 3, lineStyle: {color: '#000'}},
  splitLine: {show: true, lineStyle: {color: '#b0b0b0', width: 1}},
  minorSplitLine: {show: true, lineStyle: {color: '#cfcfcf', width: 0.8, type: [3, 2]}},
  axisLabel: {fontSize: 8, color: '#111', fontFamily: FONT, margin: 9, showMaxLabel: false, formatter: v => fmt(v, secs)},
  name: 'time', nameLocation: 'middle', nameGap: 26,
  nameTextStyle: {fontSize: 10.5, color: '#000', fontFamily: FONT}
});
const yAx = (gi, pos) => ({
  type: 'value', gridIndex: gi, position: pos, min: 24, max: 108, interval: 12,
  axisLine: {show: true, onZero: false, lineStyle: {color: '#000', width: 1}},
  axisTick: {show: true, length: 5, lineStyle: {color: '#000'}},
  minorTick: {show: true, splitNumber: 4, length: 3, lineStyle: {color: '#000'}},
  splitLine: {show: pos === 'left', lineStyle: {color: '#b0b0b0', width: 1}},
  minorSplitLine: {show: pos === 'left', lineStyle: {color: '#cfcfcf', width: 0.8, type: [3, 2]}},
  axisLabel: {fontSize: 8, color: '#111', fontFamily: FONT, margin: 9,
              formatter: v => yTicks.includes(v) ? String(v) : ''},
  name: 'dB SPL', nameLocation: 'middle', nameRotate: 90, nameGap: pos === 'left' ? 34 : 32,
  nameTextStyle: {fontSize: 10.5, color: '#000', fontFamily: FONT}
});

const COL = {pz: '#1e90ff', pc: '#ff00ff', pa: '#2e8b57', az: '#4682b4', ac: '#da70d6', aa: '#9acd32',
             z: '#dc143c', c: '#ff8c00', a: '#ffd700'};
const scatter = (name, data, color) => ({
  name, type: 'scatter', xAxisIndex: 0, yAxisIndex: 0, data, symbol: 'circle', symbolSize: 3,
  itemStyle: {color}, silent: true, z: 2
});
const line = (name, data, color, xi, yi, w, z) => ({
  name, type: 'line', xAxisIndex: xi, yAxisIndex: yi, data, showSymbol: false, symbol: 'none',
  lineStyle: {color, width: w}, itemStyle: {color}, silent: true, z, clip: true
});

const ENV = 'rgba(240,128,110,0.28)';
const series = [
  scatter('peak dB(Z)', pts(peakZ).concat(peakHighZC.map(p => [p[0], p[1]])), COL.pz),
  scatter('peak dB(C)', pts(peakC).concat(peakHighZC.map(p => [p[0], p[2]])), COL.pc),
  scatter('peak dB(A)', pts(peakA).concat(peakHighA), COL.pa),
  line('avg dB(Z)', withEvents(avgZ, eventsZC, 1), COL.az, 0, 0, 1.1, 3),
  line('avg dB(C)', withEvents(avgC, eventsZC, 2), COL.ac, 0, 0, 1.1, 4),
  line('avg dB(A)', withEvents(avgA, eventsA, 1), COL.aa, 0, 0, 1.1, 5),
  // envelope band between the dB(C) and dB(Z) 5-min levels (one polygon through the axis scales)
  {type: 'custom', xAxisIndex: 1, yAxisIndex: 2, silent: true, z: 1,
   data: [[0, c5[0], z5[0]]], encode: {x: 0, y: [1, 2]},
   renderItem: (params, api) => {
     const upper = z5.map((v, i) => api.coord([i * STEP, v]));
     const lower = c5.map((v, i) => api.coord([i * STEP, v])).reverse();
     return {type: 'polygon', shape: {points: upper.concat(lower)}, style: {fill: ENV}};
   }},
  // 15 s max excursions
  {type: 'custom', xAxisIndex: 1, yAxisIndex: 2, silent: true, z: 1,
   data: envSpikes.map(s => [s[0], zAt(s[0]), s[1]]),
   encode: {x: 0, y: [1, 2]},
   renderItem: (params, api) => {
     const p0 = api.coord([api.value(0), api.value(1)]);
     const p1 = api.coord([api.value(0), api.value(2)]);
     return {type: 'line', shape: {x1: p0[0], y1: p0[1], x2: p1[0], y2: p1[1]},
             style: {stroke: 'rgba(240,128,110,0.32)', lineWidth: 2.5}};
   }},
  line('dB(Z)', pts(z5), COL.z, 1, 2, 1.6, 3),
  line('dB(C)', pts(c5), COL.c, 1, 2, 1.6, 4),
  line('dB(A)', pts(a5), COL.a, 1, 2, 1.6, 5)
];

const legendBase = {orient: 'vertical', padding: 0, selectedMode: false,
  textStyle: {fontSize: 9.5, fontFamily: FONT, color: '#000', lineHeight: 12}};
const option = {
  animation: false,
  backgroundColor: '#ffffff',
  textStyle: {fontFamily: FONT},
  title: [
    {text: 'data from [5005/mic0]\nstarting point is [20241125_000056]', left: 24, top: 11, padding: 0,
     textStyle: {fontSize: 14, fontWeight: 'bold', fontFamily: FONT, color: '#000', lineHeight: 15}},
    {text: 'average and peak noise level (1 min sampling)', left: 59, top: 64, padding: 0,
     textStyle: {fontSize: 11.5, fontWeight: 'bold', fontFamily: FONT, color: '#000', lineHeight: 14}},
    {text: 'average noise level (5 min with 15s min/max dB envelope)', left: 59, top: 625, padding: 0,
     textStyle: {fontSize: 11.5, fontWeight: 'bold', fontFamily: FONT, color: '#000', lineHeight: 14}}
  ],
  grid: grids,
  xAxis: [xAx(0, false), xAx(1, true)],
  yAxis: [yAx(0, 'left'), yAx(0, 'right'), yAx(1, 'left'), yAx(1, 'right')],
  legend: [
    Object.assign({}, legendBase, {data: ['peak dB(Z)', 'peak dB(C)', 'peak dB(A)'], left: 2166, top: 543.5,
      itemWidth: 6, itemHeight: 6, icon: 'circle', itemGap: 0.3,
      textStyle: Object.assign({}, legendBase.textStyle, {padding: [0, 0, 0, 9]})}),
    Object.assign({}, legendBase, {data: ['avg dB(Z)', 'avg dB(C)', 'avg dB(A)'], left: 2258, top: 543.5,
      itemWidth: 22, itemHeight: 3.5, icon: 'rect', itemGap: 0.3}),
    Object.assign({}, legendBase, {data: ['dB(Z)', 'dB(C)', 'dB(A)'], left: 2279, top: 1105.8,
      itemWidth: 22, itemHeight: 3.5, icon: 'rect', itemGap: 0, textStyle: Object.assign({}, legendBase.textStyle, {padding: [0, 0, 0, 2]})})
  ],
  graphic: [
    {type: 'rect', z: 3, shape: {x: 2156, y: 542, width: 182, height: 41, r: 3},
     style: {fill: 'rgba(255,248,220,0.85)', stroke: '#e0c49a', lineWidth: 1}},
    {type: 'rect', z: 3, shape: {x: 2277, y: 1103, width: 61, height: 41, r: 3},
     style: {fill: 'rgba(255,248,220,0.85)', stroke: '#e0c49a', lineWidth: 1}}
  ],
  series
};
const chart = echarts.init(document.getElementById('c'), null, {renderer: 'canvas', width: 2400, height: 1200});
chart.setOption(option);
</script></body></html>
